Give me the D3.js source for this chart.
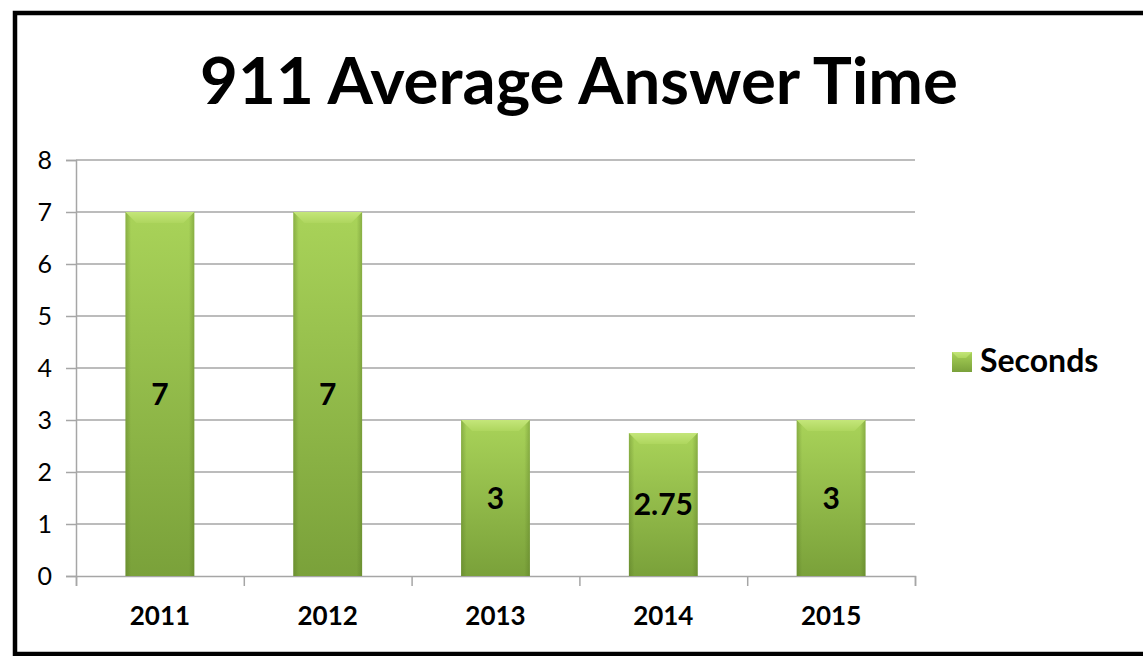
<!DOCTYPE html>
<meta charset="utf-8">
<style>
    body { margin: 0; background: #fff; }
    text { font-family: Lato, "Open Sans", "Liberation Sans", sans-serif; }
    .grid line { stroke: #a6a6a6; stroke-width: 1.5; }
    .axis path, .axis line { stroke: #a6a6a6; stroke-width: 1.5; }
    .axis text { fill: #000; }
</style>
<svg width="1143" height="656"></svg>
<script src="https://d3js.org/d3.v7.min.js"></script>
<script>

    var years = ["2011", "2012", "2013", "2014", "2015"],
        seconds = [7, 7, 3, 2.75, 3],
        valueLabels = ["7", "7", "3", "2.75", "3"],
        yTicks = [0, 1, 2, 3, 4, 5, 6, 7, 8],
        seriesName = "Seconds",
        title = "911 Average Answer Time";

    var svg = d3.select("svg"),
        margin = {top: 160, left: 76, right: 228, bottom: 80},
        width = +svg.attr("width") - margin.left - margin.right,
        height = +svg.attr("height") - margin.top - margin.bottom;

    // outer frame
    svg.append("rect")
        .attr("x", 15).attr("y", 13)
        .attr("width", 1140).attr("height", 641)
        .attr("fill", "#fff")
        .attr("stroke", "#000")
        .attr("stroke-width", 4.5);

    var defs = svg.append("defs");
    var grad = defs.append("linearGradient")
        .attr("id", "barGrad").attr("x1", 0).attr("y1", 0).attr("x2", 0).attr("y2", 1);
    grad.append("stop").attr("offset", "0%").attr("stop-color", "#a9d359");
    grad.append("stop").attr("offset", "100%").attr("stop-color", "#7aa13a");

    var side = defs.append("linearGradient")
        .attr("id", "sideGrad").attr("x1", 0).attr("y1", 0).attr("x2", 1).attr("y2", 0);
    side.append("stop").attr("offset", "0%").attr("stop-color", "#4f6e1f").attr("stop-opacity", 0.35);
    side.append("stop").attr("offset", "8%").attr("stop-color", "#4f6e1f").attr("stop-opacity", 0);
    side.append("stop").attr("offset", "92%").attr("stop-color", "#4f6e1f").attr("stop-opacity", 0);
    side.append("stop").attr("offset", "100%").attr("stop-color", "#4f6e1f").attr("stop-opacity", 0.35);

    var bevel = defs.append("linearGradient")
        .attr("id", "bevelGrad").attr("x1", 0).attr("y1", 0).attr("x2", 0).attr("y2", 1);
    bevel.append("stop").attr("offset", "0%").attr("stop-color", "#c4e67a");
    bevel.append("stop").attr("offset", "100%").attr("stop-color", "#aed65e");

    var x = d3.scaleBand().domain(years).range([0, width]).paddingInner(0.59).paddingOuter(0.295),
        y = d3.scaleLinear().domain([0, 8]).range([height, 0]);

    var g = svg.append("g")
        .attr("transform", "translate(" + margin.left + "," + margin.top + ")");

    g.append("g")
        .attr("class", "grid")
        .selectAll("line")
        .data(yTicks.slice(1))
        .enter().append("line")
        .attr("x1", 0).attr("x2", width)
        .attr("y1", function(d) { return y(d); })
        .attr("y2", function(d) { return y(d); });

    var xBounds = d3.scaleLinear().domain([0, years.length]).range([0, width]);

    g.append("g")
        .attr("class", "axis axis--x")
        .attr("transform", "translate(0," + height + ")")
        .call(d3.axisBottom(xBounds).tickValues(d3.range(years.length + 1)).tickSize(10).tickFormat(""));

    g.append("g")
        .attr("class", "axis axis--y")
        .call(d3.axisLeft(y).tickValues(yTicks).tickSize(10).tickPadding(14))
        .selectAll("text")
        .attr("font-size", 25);

    var data = years.map(function(d, i) { return {year: d, value: seconds[i], label: valueLabels[i]}; });

    var bars = g.selectAll(".bar")
        .data(data)
        .enter().append("g")
        .attr("class", "bar");

    bars.append("rect")
        .attr("x", function(d) { return x(d.year); })
        .attr("y", function(d) { return y(d.value); })
        .attr("width", x.bandwidth())
        .attr("height", function(d) { return height - y(d.value); })
        .attr("fill", "url(#barGrad)");

    bars.append("rect")
        .attr("x", function(d) { return x(d.year); })
        .attr("y", function(d) { return y(d.value); })
        .attr("width", x.bandwidth())
        .attr("height", function(d) { return height - y(d.value); })
        .attr("fill", "url(#sideGrad)");

    // top bevel
    bars.append("path")
        .attr("d", function(d) {
            var x0 = x(d.year), x1 = x0 + x.bandwidth(), y0 = y(d.value), b = 11;
            return "M" + x0 + "," + y0 + "L" + x1 + "," + y0 + "L" + (x1 - b) + "," + (y0 + b) +
                "L" + (x0 + b) + "," + (y0 + b) + "Z";
        })
        .attr("fill", "url(#bevelGrad)");

    bars.append("text")
        .attr("x", function(d) { return x(d.year) + x.bandwidth() / 2; })
        .attr("y", function(d) { return (y(d.value) + height) / 2; })
        .attr("dy", "0.35em")
        .attr("text-anchor", "middle")
        .attr("font-size", 30)
        .attr("font-weight", "bold")
        .text(function(d) { return d.label; });

    g.append("g")
        .selectAll("text")
        .data(years)
        .enter().append("text")
        .attr("x", function(d) { return x(d) + x.bandwidth() / 2; })
        .attr("y", height + 49)
        .attr("text-anchor", "middle")
        .attr("font-size", 26)
        .attr("font-weight", "bold")
        .text(function(d) { return d; });

    // title, fitted to the reference width
    var t = svg.append("text")
        .attr("x", 579)
        .attr("y", 104)
        .attr("text-anchor", "middle")
        .attr("font-weight", "bold")
        .attr("font-size", 56)
        .text(title);
    var len = t.node().getComputedTextLength();
    t.attr("font-size", 56 * 758 / len);

    // legend
    var legend = svg.append("g").attr("transform", "translate(952,352)");
    legend.append("rect").attr("width", 20).attr("height", 20).attr("fill", "url(#barGrad)");
    legend.append("path").attr("d", "M0,0L20,0L14,6L6,6Z").attr("fill", "url(#bevelGrad)");
    legend.append("text")
        .attr("x", 28).attr("y", 20)
        .attr("font-size", 32)
        .attr("font-weight", "bold")
        .text(seriesName);
</script>
